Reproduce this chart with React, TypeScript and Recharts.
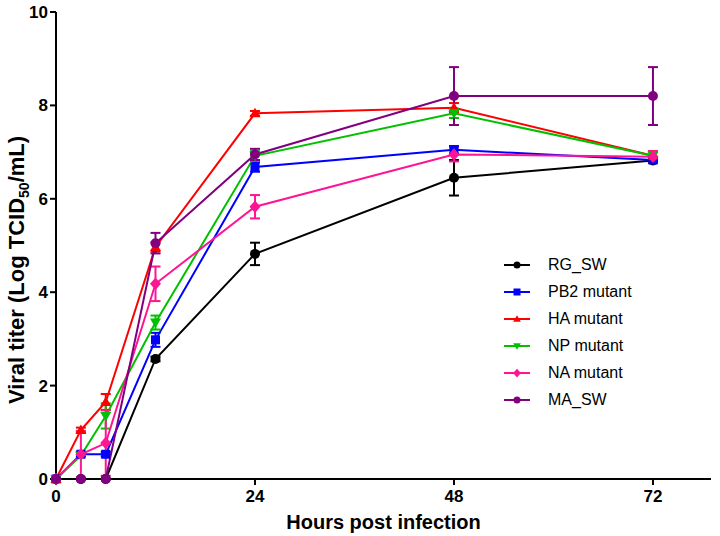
import { LineChart, Line, XAxis, YAxis, ErrorBar } from "recharts";

const hours = [0, 3, 6, 12, 24, 48, 72];
const xTicks = [0, 24, 48, 72];
const yTicks = [0, 2, 4, 6, 8, 10];

const rgSw = [0, 0, 0, 2.57, 4.82, 6.45, 6.82];
const rgSwErr = [0, 0, 0, 0.05, 0.24, 0.38, 0.05];
const pb2 = [0, 0.53, 0.53, 2.98, 6.68, 7.05, 6.83];
const pb2Err = [0, 0.05, 0.05, 0.15, 0.1, 0.08, 0.05];
const ha = [0, 1.05, 1.65, 4.97, 7.83, 7.95, 6.92];
const haErr = [0, 0.05, 0.17, 0.1, 0.05, 0.1, 0.1];
const np = [0, 0.5, 1.35, 3.35, 6.92, 7.83, 6.92];
const npErr = [0, 0, 0.27, 0.15, 0.1, 0.1, 0.08];
const na = [0, 0.53, 0.77, 4.18, 5.83, 6.95, 6.9];
const naErr = [0, 0.5, 0.7, 0.37, 0.25, 0.15, 0.12];
const maSw = [0, 0, 0, 5.05, 6.95, 8.2, 8.2];
const maSwErr = [0, 0, 0, 0.22, 0.12, 0.62, 0.62];

const series = [
  { key: "rg", name: "RG_SW", color: "#000000", shape: "circle", values: rgSw, errs: rgSwErr },
  { key: "pb2", name: "PB2 mutant", color: "#0000ff", shape: "square", values: pb2, errs: pb2Err },
  { key: "ha", name: "HA mutant", color: "#ff0000", shape: "triangle", values: ha, errs: haErr },
  { key: "np", name: "NP mutant", color: "#00c000", shape: "down", values: np, errs: npErr },
  { key: "na", name: "NA mutant", color: "#ff1493", shape: "diamond", values: na, errs: naErr },
  { key: "ma", name: "MA_SW", color: "#800080", shape: "circle", values: maSw, errs: maSwErr },
];

const data = hours.map((h, i) => {
  const row: Record<string, number> = { hour: h };
  series.forEach((s) => {
    row[s.key] = s.values[i];
    row[s.key + "Err"] = s.errs[i];
  });
  return row;
});

const font = "Arial, 'Liberation Sans', sans-serif";

function Marker({ cx, cy, shape, color, size }: any) {
  const s = size;
  if (shape === "square")
    return <rect x={cx - s} y={cy - s} width={2 * s} height={2 * s} fill={color} />;
  if (shape === "triangle")
    return <polygon points={`${cx},${cy - s * 1.1} ${cx + s * 1.1},${cy + s * 0.8} ${cx - s * 1.1},${cy + s * 0.8}`} fill={color} />;
  if (shape === "down")
    return <polygon points={`${cx},${cy + s * 1.1} ${cx + s * 1.1},${cy - s * 0.8} ${cx - s * 1.1},${cy - s * 0.8}`} fill={color} />;
  if (shape === "diamond")
    return <polygon points={`${cx},${cy - s * 1.25} ${cx + s * 1.1},${cy} ${cx},${cy + s * 1.25} ${cx - s * 1.1},${cy}`} fill={color} />;
  return <circle cx={cx} cy={cy} r={s} fill={color} />;
}

function YTitle() {
  return (
    <text
      transform="translate(24, 270) rotate(-90)"
      textAnchor="middle"
      fontFamily={font}
      fontWeight="bold"
      fontSize={22}
      fill="#000"
    >
      Viral titer (Log TCID
      <tspan fontSize={14} dy={5}>50</tspan>
      <tspan dy={-5}>/mL)</tspan>
    </text>
  );
}

function LegendBox() {
  return (
    <div
      style={{
        position: "absolute",
        left: 502,
        top: 251,
        fontFamily: font,
        fontSize: 16,
        color: "#000",
      }}
    >
      {series.map((s) => (
        <div key={s.key} style={{ display: "flex", alignItems: "center", height: 27 }}>
          <svg width={30} height={14}>
            <line x1={2} y1={7} x2={28} y2={7} stroke={s.color} strokeWidth={2} />
            <Marker cx={15} cy={7} shape={s.shape} color={s.color} size={3.5} />
          </svg>
          <span style={{ marginLeft: 16 }}>{s.name}</span>
        </div>
      ))}
    </div>
  );
}

export default function App() {
  return (
    <div style={{ position: "relative", width: 720, height: 536, background: "#fff" }}>
      <style>{"body{margin:0}"}</style>
      <LineChart width={720} height={536} data={data} margin={{ top: 12, right: 9, left: 0, bottom: 0 }}>
        <XAxis
          dataKey="hour"
          type="number"
          domain={[0, 79]}
          ticks={xTicks}
          height={57}
          stroke="#000"
          strokeWidth={2}
          tickSize={6}
          tickMargin={5}
          tick={{ fill: "#000", fontSize: 17, fontWeight: "bold", fontFamily: font }}
          label={{
            value: "Hours post infection",
            position: "insideBottom",
            offset: 7,
            fill: "#000",
            fontSize: 20,
            fontWeight: "bold",
            fontFamily: font,
          }}
        />
        <YAxis
          type="number"
          domain={[0, 10]}
          ticks={yTicks}
          width={56}
          stroke="#000"
          strokeWidth={2}
          tickSize={6}
          tickMargin={2}
          tick={{ fill: "#000", fontSize: 17, fontWeight: "bold", fontFamily: font }}
          label={{ content: () => <YTitle /> }}
        />
        {series.map((s) => (
          <Line
            key={s.key}
            dataKey={s.key}
            name={s.name}
            stroke={s.color}
            strokeWidth={2}
            isAnimationActive={false}
            dot={(p: any) => (
              <Marker key={`${s.key}-${p.index}`} cx={p.cx} cy={p.cy} shape={s.shape} color={s.color} size={s.shape === "square" ? 4.5 : 5} />
            )}
            activeDot={false}
          >
            <ErrorBar dataKey={s.key + "Err"} direction="y" width={5} stroke={s.color} strokeWidth={2} />
          </Line>
        ))}
      </LineChart>
      <LegendBox />
    </div>
  );
}
